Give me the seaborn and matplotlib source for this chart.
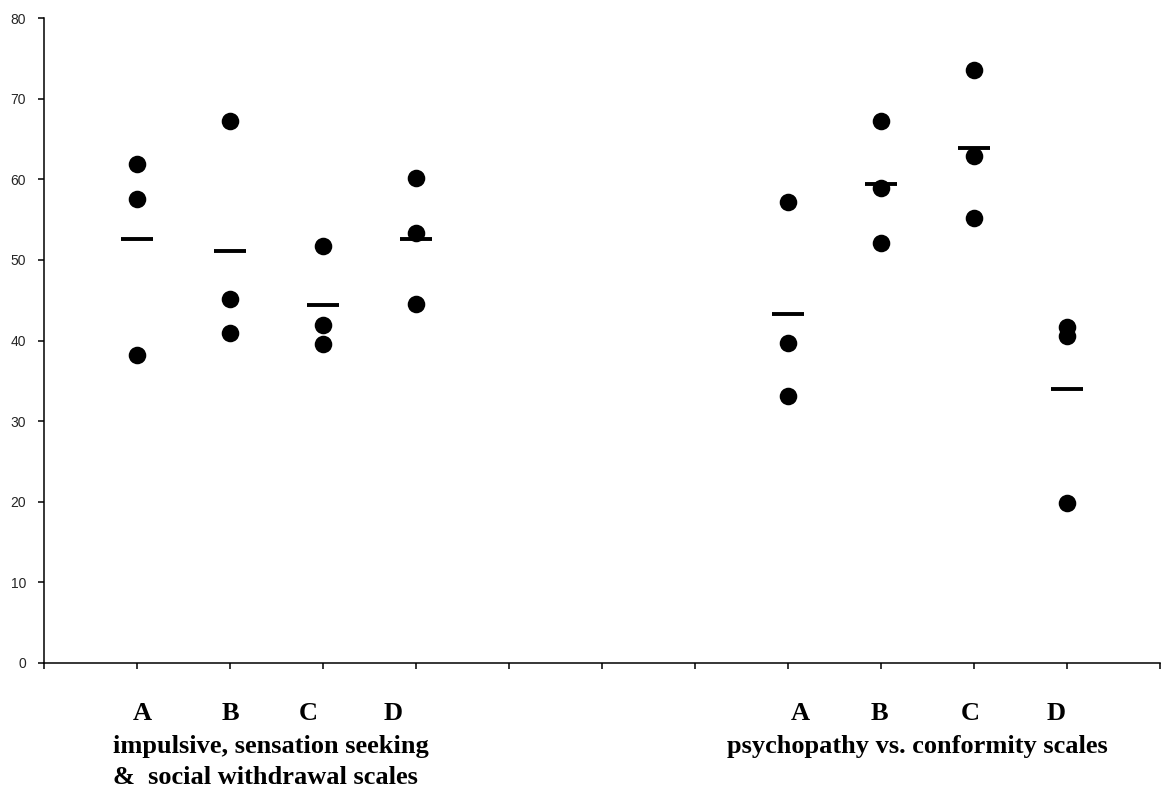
import matplotlib
matplotlib.use("Agg")
import matplotlib.pyplot as plt
import pandas as pd
import seaborn as sns

sns.set_style("ticks")
plt.rcParams['font.family'] = ['Liberation Sans', 'DejaVu Sans']

scale_labels = ["impulsive, sensation seeking\n&  social withdrawal scales",
                "psychopathy vs. conformity scales"]
groups = ["A", "B", "C", "D"]
impulsive_vals = [[61.9, 57.5, 38.2], [67.2, 45.2, 40.9], [51.7, 41.9, 39.6], [60.1, 53.3, 44.5]]
psychopathy_vals = [[57.2, 39.7, 33.1], [67.2, 58.9, 52.1], [73.5, 62.9, 55.2], [41.7, 40.6, 19.8]]
y_ticks = [0, 10, 20, 30, 40, 50, 60, 70, 80]

rows = []
for s, vals in enumerate([impulsive_vals, psychopathy_vals]):
    for g, pts in enumerate(vals):
        for v in pts:
            rows.append({"scale": s, "group": groups[g], "pos": s * 7 + g + 1, "value": v})
df = pd.DataFrame(rows)
means = df.groupby("pos", as_index=False)["value"].mean()

fig = plt.figure(figsize=(11.62, 7.89), dpi=100)
ax = fig.add_axes([44 / 1162, 1 - 663 / 789, 1116 / 1162, 645 / 789])

sns.scatterplot(data=df, x="pos", y="value", color="black", s=160, linewidth=0,
                legend=False, ax=ax, zorder=3)
sns.scatterplot(data=means, x="pos", y="value", marker="_", s=500, color="black",
                linewidth=2.8, legend=False, ax=ax, zorder=4)

ax.set_xlim(0, 12)
ax.set_ylim(0, 80)
ax.set_xticks(range(13))
ax.set_xticklabels([])
ax.set_yticks(y_ticks)
ax.set_yticklabels([str(t) for t in y_ticks], fontsize=10)
ax.tick_params(axis='both', direction='out', length=4, width=1.1, color='black')
ax.tick_params(axis='y', pad=9)
ax.set_xlabel("")
ax.set_ylabel("")
sns.despine(ax=ax)
for sp in ["left", "bottom"]:
    ax.spines[sp].set_linewidth(1.1)
    ax.spines[sp].set_color("black")

# category letters and group captions below the axis
letter_pos = [1.06, 2.0, 2.84, 3.75, 8.13, 8.98, 9.96, 10.88]
trans = ax.get_xaxis_transform()
serif = dict(family=['Liberation Serif'], fontweight='bold', fontsize=19, color='black')
for i, x in enumerate(letter_pos):
    ax.text(x, -0.078, groups[i % 4], transform=trans, ha='center', va='center', **serif)
ax.text(0.742, -0.153, scale_labels[0], transform=trans, ha='left', va='center',
        linespacing=1.45, **serif)
ax.text(9.39, -0.13, scale_labels[1], transform=trans, ha='center', va='center', **serif)

fig.savefig("out.png", dpi=100)
